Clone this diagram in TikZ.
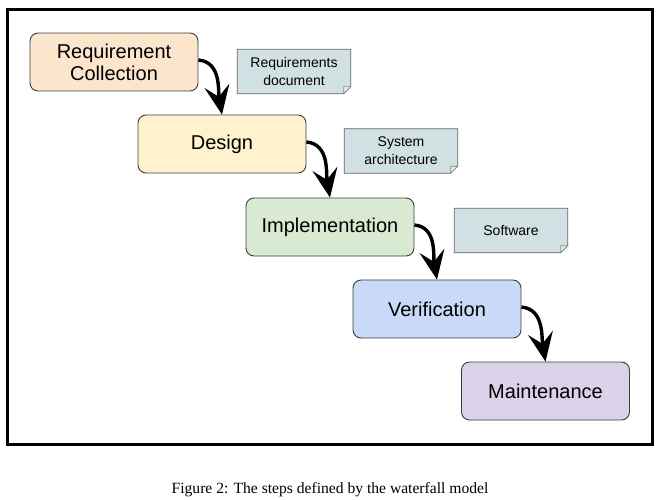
\documentclass[tikz,border=0pt]{standalone}
\usepackage{fontspec}
\setmainfont{Liberation Sans}
\newfontfamily\capfont{Liberation Serif}
\usepackage{tikz}
\usetikzlibrary{arrows.meta,backgrounds}
\definecolor{reqcol}{HTML}{FCE5CD}
\definecolor{descol}{HTML}{FFF2CC}
\definecolor{impcol}{HTML}{D9EAD3}
\definecolor{vercol}{HTML}{C9DAF8}
\definecolor{maicol}{HTML}{D9D2E9}
\definecolor{notecol}{HTML}{D0E0E3}
\definecolor{foldcol}{HTML}{E6EDEF}
\definecolor{edgecol}{HTML}{3C3C3C}

\begin{document}
\begin{tikzpicture}[x=1pt,y=1pt,>=Stealth,
  phase/.style={draw=edgecol,line width=0.9pt,rounded corners=8pt,
    minimum width=168pt,minimum height=58pt,align=center,
    font=\fontsize{20}{22}\selectfont,text=black},
  notebox/.style={minimum width=113pt,minimum height=44pt,align=center,
    font=\fontsize{14}{18}\selectfont,text=black},
  flow/.style={line width=3.4pt,
    -{Stealth[length=29pt,width=25pt,inset=11pt]}}]
  \useasboundingbox (0,0) rectangle (658,499);
  \draw[line width=3pt] (7,55) rectangle (652,489);
  % phases
  \node[phase,fill=reqcol] (req) at (114,437) {Requirement\\Collection};
  \node[phase,fill=descol] (des) at (222,355) {Design};
  \node[phase,fill=impcol] (imp) at (330,272) {Implementation};
  \node[phase,fill=vercol] (ver) at (437,190) {Verification};
  \node[phase,fill=maicol] (mai) at (545.5,108) {Maintenance};
  % documents
  \node[notebox] (rdoc) at (294,427.5) {Requirements\\document};
  \node[notebox] (arch) at (401,348) {System\\architecture};
  \node[notebox] (soft) at (511,268.5) {Software};
  \begin{scope}[on background layer]
    \foreach \n in {rdoc,arch,soft}{
      \draw[draw=edgecol!80,line width=0.8pt,fill=notecol]
        (\n.north west) -- (\n.north east) -- ([yshift=7pt]\n.south east)
        -- ([xshift=-7pt]\n.south east) -- (\n.south west) -- cycle;
      \draw[draw=edgecol!60,line width=0.6pt,fill=foldcol]
        ([yshift=7pt]\n.south east) -- ([xshift=-7pt,yshift=7pt]\n.south east)
        -- ([xshift=-7pt]\n.south east) -- cycle;
    }
  \end{scope}
  % flow between phases
  \draw[flow] ([yshift=2pt]req.east) to[out=-5,in=100] (des.north);
  \draw[flow] ([yshift=2pt]des.east) to[out=-5,in=100] (imp.north);
  \draw[flow] ([yshift=2pt]imp.east) to[out=-5,in=100] (ver.north);
  \draw[flow] ([yshift=2pt]ver.east) to[out=-5,in=100] (mai.north);
  \node[font=\capfont\fontsize{15.6}{18}\selectfont] (cap) at (330,9)
    {Figure 2: The steps defined by the waterfall model};
\end{tikzpicture}
\end{document}
